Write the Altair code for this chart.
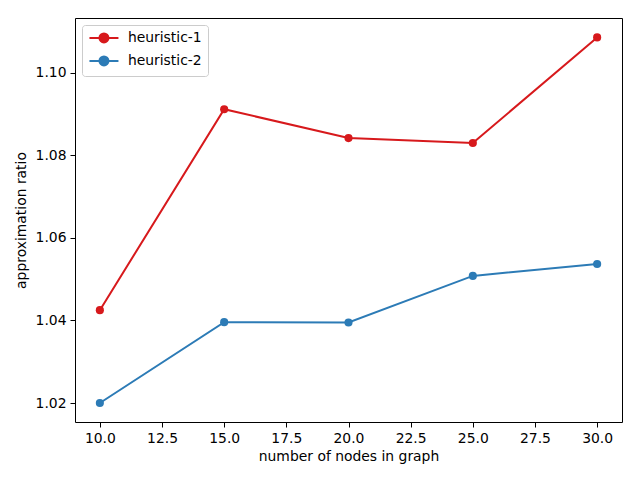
import altair as alt
import pandas as pd

nodes = [10, 15, 20, 25, 30]
h1 = [1.0425, 1.0912, 1.0842, 1.0830, 1.1086]
h2 = [1.0200, 1.0396, 1.0395, 1.0508, 1.0537]
series = ["heuristic-1", "heuristic-2"]
colors = ["#d7191c", "#2c7bb6"]
x_ticks = [10, 12.5, 15, 17.5, 20, 22.5, 25, 27.5, 30]
y_ticks = [1.02, 1.04, 1.06, 1.08, 1.10]

rows = []
for n, a, b in zip(nodes, h1, h2):
    rows.append({"n": n, "ratio": a, "series": series[0]})
    rows.append({"n": n, "ratio": b, "series": series[1]})
df = pd.DataFrame(rows)

font = "DejaVu Sans"
fs = 13.9
sym = "M-1.1,0L4.7,0M0.9,0A0.9,0.9,0,1,1,2.7,0A0.9,0.9,0,1,1,0.9,0Z"

x = alt.X("n:Q", scale=alt.Scale(domain=[9, 31], nice=False, zero=False),
          axis=alt.Axis(values=x_ticks, format=".1f", title="number of nodes in graph"))
y = alt.Y("ratio:Q", scale=alt.Scale(domain=[1.0154, 1.1133], nice=False, zero=False),
          axis=alt.Axis(values=y_ticks, format=".2f", title="approximation ratio"))
color = alt.Color("series:N", scale=alt.Scale(domain=series, range=colors),
                  legend=alt.Legend(title=None, orient="top-left", symbolType=sym,
                                    symbolSize=100, symbolStrokeWidth=2,
                                    labelFontSize=fs, labelFont=font, labelColor="black",
                                    labelOffset=26,
                                    fillColor="white", strokeColor="#cccccc",
                                    padding=6, cornerRadius=3, rowPadding=5,
                                    offset=7))

base = alt.Chart(df).encode(x=x, y=y, color=color)
lines = base.mark_line(strokeWidth=2)
pts = base.mark_point(filled=True, size=66, opacity=1, shape="circle")

chart = (lines + pts).properties(
    width=547, height=404,
    autosize=alt.AutoSizeParams(type="none"),
    padding={"left": 67, "top": 10, "right": 10, "bottom": 50},
).configure_view(stroke="black", strokeWidth=1).configure_axis(
    labelFont=font, titleFont=font, labelFontSize=fs, titleFontSize=fs,
    titleFontWeight="normal", labelColor="black", titleColor="black",
    domain=False, grid=False, tickColor="black", tickSize=5, labelPadding=4,
).configure_axisX(titlePadding=5).configure_axisY(titlePadding=7)

chart.save("out.html", embed_options={"renderer": "svg", "actions": False})
